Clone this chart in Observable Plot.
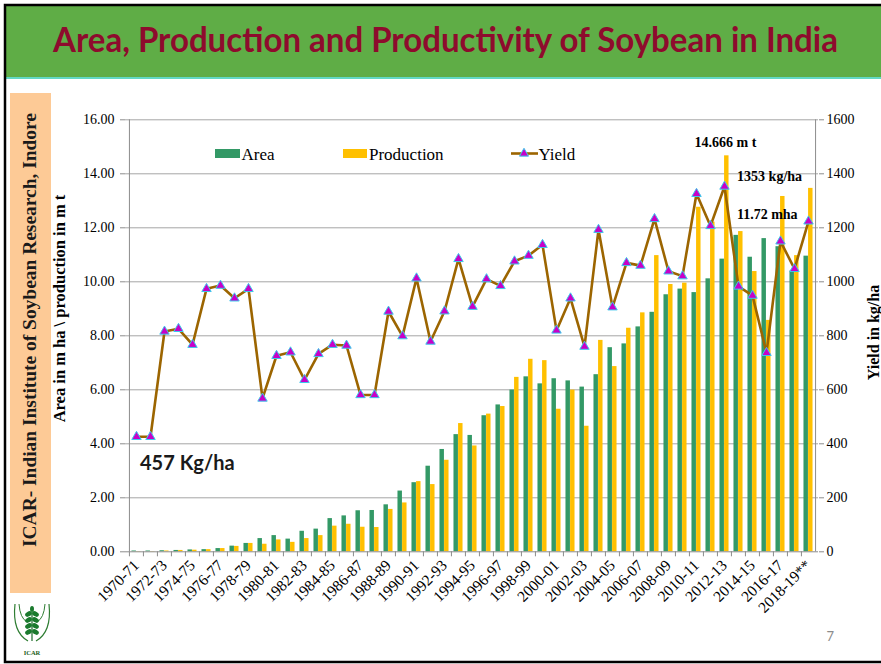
<!DOCTYPE html>
<html>
<head>
<meta charset="utf-8">
<script src="https://cdn.jsdelivr.net/npm/d3@7"></script>
<script src="https://cdn.jsdelivr.net/npm/@observablehq/plot@0.6"></script>
<style>
  body { margin: 0; background: #fff; }
  #page { position: relative; width: 881px; height: 664px; overflow: hidden; background: #fff; }
  #page > svg { position: absolute; left: 0; top: 0; }
</style>
</head>
<body>
<div id="page"></div>
<script>
// Crop years (tick labels are drawn for every second year)
const years = [
  "1970-71","1971-72","1972-73","1973-74","1974-75","1975-76","1976-77","1977-78","1978-79","1979-80",
  "1980-81","1981-82","1982-83","1983-84","1984-85","1985-86","1986-87","1987-88","1988-89","1989-90",
  "1990-91","1991-92","1992-93","1993-94","1994-95","1995-96","1996-97","1997-98","1998-99","1999-00",
  "2000-01","2001-02","2002-03","2003-04","2004-05","2005-06","2006-07","2007-08","2008-09","2009-10",
  "2010-11","2011-12","2012-13","2013-14","2014-15","2015-16","2016-17","2017-18","2018-19**"
];

// Area, million ha
const area = [
  0.03,0.03,0.04,0.05,0.07,0.08,0.12,0.21,0.31,0.49,
  0.60,0.47,0.76,0.84,1.23,1.33,1.52,1.53,1.74,2.25,
  2.56,3.17,3.79,4.34,4.31,5.04,5.44,5.99,6.48,6.22,
  6.41,6.33,6.10,6.56,7.56,7.70,8.33,8.87,9.52,9.73,
  9.60,10.11,10.84,11.72,10.91,11.60,11.30,10.40,10.95
];

// Production, million tonnes
const production = [
  0.01,0.01,0.03,0.05,0.06,0.08,0.12,0.20,0.31,0.28,
  0.44,0.35,0.49,0.60,0.95,1.02,0.91,0.90,1.57,1.81,
  2.60,2.49,3.39,4.75,3.92,5.10,5.38,6.46,7.13,7.08,
  5.28,5.99,4.65,7.83,6.86,8.28,8.85,10.97,9.90,9.95,
  12.76,12.21,14.666,11.86,10.38,8.57,13.16,10.97,13.46
];

// Yield, kg/ha
const yieldKg = [
  426,426,816,826,767,974,986,939,974,568,
  726,739,637,733,767,764,581,581,890,799,
  1013,779,891,1085,908,1010,985,1076,1097,1137,
  820,939,760,1193,906,1070,1060,1233,1039,1021,
  1326,1207,1353,983,949,737,1150,1048,1224
];

const seriesNames = ["Area", "Production", "Yield"];
const leftTicks = d3.range(0, 17, 2);
const rightTicks = d3.range(0, 1601, 200);

const rows = years.map((year, i) => ({year, area: area[i], production: production[i], yield: yieldKg[i]}));

const W = 881, H = 664;
const ML = 125, MR = 63, MT = 119.3, MB = H - 551.3;
const bw = (W - ML - MR) / years.length;
const barW = 4.6;

const colArea = "#339966", colProd = "#ffc000", colLine = "#9c6500";
const colTri = "#c800c8", colTriEdge = "#3cc8ec";
const gridColor = "#a6a6a6", axisColor = "#8c8c8c";
const serif = "Liberation Serif, Times New Roman, serif";

const page = d3.select("#page");

// ---------- slide background, header, side band, titles, legend ----------
const deco = page.append("svg").attr("width", W).attr("height", H);

deco.append("rect").attr("x", 6).attr("y", 6).attr("width", W - 6).attr("height", 71).attr("fill", "#5fad46");
deco.append("rect").attr("x", 6).attr("y", 77).attr("width", W - 6).attr("height", 2).attr("fill", "#62d8c4");
deco.append("path").attr("d", `M${W},5 H5 V662 H${W}`).attr("fill", "none").attr("stroke", "#000").attr("stroke-width", 2.5);

deco.append("text")
  .attr("x", 445.5).attr("y", 52).attr("text-anchor", "middle")
  .attr("font-family", "Lato, Open Sans, sans-serif").attr("font-weight", "bold").attr("font-size", 34)
  .attr("textLength", 785).attr("lengthAdjust", "spacingAndGlyphs")
  .attr("fill", "#8e0b2d")
  .text("Area, Production and Productivity of Soybean in India");

deco.append("rect").attr("x", 10).attr("y", 93).attr("width", 41).attr("height", 500).attr("fill", "#fdca96");

deco.append("text")
  .attr("transform", "translate(30,330) rotate(-90)")
  .attr("text-anchor", "middle").attr("dominant-baseline", "central")
  .attr("font-family", serif).attr("font-weight", "bold").attr("font-size", 18)
  .attr("textLength", 434).attr("lengthAdjust", "spacingAndGlyphs")
  .attr("fill", "#1a1a1a")
  .text("ICAR- Indian Institute of Soybean Research, Indore");

deco.append("text")
  .attr("transform", "translate(59.5,308.5) rotate(-90)")
  .attr("text-anchor", "middle").attr("dominant-baseline", "central")
  .attr("font-family", serif).attr("font-weight", "bold").attr("font-size", 16.5)
  .attr("fill", "#000")
  .text("Area in m ha \\ production in m t");

deco.append("text")
  .attr("transform", "translate(873.5,332.5) rotate(-90)")
  .attr("text-anchor", "middle").attr("dominant-baseline", "central")
  .attr("font-family", serif).attr("font-weight", "bold").attr("font-size", 16)
  .attr("fill", "#000")
  .text("Yield in kg/ha");

// legend
const lg = deco.append("g").attr("font-family", serif).attr("font-size", 17).attr("fill", "#000");
lg.append("rect").attr("x", 215).attr("y", 149).attr("width", 25).attr("height", 9).attr("fill", colArea);
lg.append("text").attr("x", 241.5).attr("y", 160).text(seriesNames[0]);
lg.append("rect").attr("x", 343).attr("y", 149).attr("width", 24).attr("height", 9).attr("fill", colProd);
lg.append("text").attr("x", 369).attr("y", 160).text(seriesNames[1]);
lg.append("line").attr("x1", 511).attr("x2", 538).attr("y1", 153.5).attr("y2", 153.5).attr("stroke", colLine).attr("stroke-width", 2.6);
lg.append("path").attr("transform", "translate(524,153.5)")
  .attr("d", d3.symbol(d3.symbolTriangle, 36)()).attr("fill", colTri).attr("stroke", colTriEdge).attr("stroke-width", 1);
lg.append("text").attr("x", 538.5).attr("y", 160).text(seriesNames[2]);

deco.append("text")
  .attr("x", 140).attr("y", 470)
  .attr("font-family", "Lato, sans-serif").attr("font-weight", "bold").attr("font-size", 20)
  .attr("fill", "#1a1a1a")
  .text("457 Kg/ha");

deco.append("text")
  .attr("x", 826.5).attr("y", 641)
  .attr("font-family", "Lato, sans-serif").attr("font-size", 13)
  .attr("fill", "#8c8c8c")
  .text("7");

// ICAR emblem
const logo = deco.append("g").attr("transform", "translate(32,626)");
logo.append("path").attr("d", "M-17,-22 Q-20,6 -4,15").attr("fill", "none").attr("stroke", "#2e7d32").attr("stroke-width", 1.2);
logo.append("path").attr("d", "M17,-22 Q20,6 4,15").attr("fill", "none").attr("stroke", "#2e7d32").attr("stroke-width", 1.2);
logo.append("path").attr("d", "M-13,-22 Q-12,-8 -5,-4").attr("fill", "none").attr("stroke", "#2e7d32").attr("stroke-width", 1);
logo.append("path").attr("d", "M13,-22 Q12,-8 5,-4").attr("fill", "none").attr("stroke", "#2e7d32").attr("stroke-width", 1);
logo.append("line").attr("x1", 0).attr("x2", 0).attr("y1", -14).attr("y2", 15).attr("stroke", "#1b6b2a").attr("stroke-width", 1.2);
[-12, -6, 0, 6].forEach(dy => {
  logo.append("ellipse").attr("cx", -3.5).attr("cy", dy).attr("rx", 3.6).attr("ry", 2.4).attr("transform", `rotate(-30,-3.5,${dy})`).attr("fill", "#1b7a2e");
  logo.append("ellipse").attr("cx", 3.5).attr("cy", dy).attr("rx", 3.6).attr("ry", 2.4).attr("transform", `rotate(30,3.5,${dy})`).attr("fill", "#1b7a2e");
});
logo.append("ellipse").attr("cx", 0).attr("cy", -17).attr("rx", 2).attr("ry", 3).attr("fill", "#1b7a2e");
logo.append("text").attr("x", 0).attr("y", 29).attr("text-anchor", "middle")
  .attr("font-family", serif).attr("font-weight", "bold").attr("font-size", 6.5).attr("fill", "#1b5e20").text("ICAR");

// ---------- area and production bars, left axis ----------
const peakProd = d3.greatest(rows, d => d.production);
const peakArea = d3.greatest(rows, d => d.area);
const peakYield = d3.greatest(rows, d => d.yield);

const common = {
  width: W, height: H,
  marginLeft: ML, marginRight: MR, marginTop: MT, marginBottom: MB,
  style: `background: transparent; font-family: ${serif}; font-size: 14px; color: #000; overflow: visible;`,
  x: {type: "band", domain: years, padding: 0, axis: null}
};

const barsPlot = Plot.plot({
  ...common,
  y: {domain: [0, 16], axis: null},
  marks: [
    Plot.gridY(leftTicks.filter(d => d > 0), {stroke: gridColor, strokeOpacity: 1}),
    Plot.barY(rows, {x: "year", y: "area", fill: colArea, insetLeft: bw / 2 - barW, insetRight: bw / 2}),
    Plot.barY(rows, {x: "year", y: "production", fill: colProd, insetLeft: bw / 2, insetRight: bw / 2 - barW}),
    Plot.ruleY([0], {stroke: axisColor}),
    Plot.ruleX([years[0]], {dx: -bw / 2, stroke: axisColor}),
    Plot.ruleX([years[years.length - 1]], {dx: bw / 2, stroke: axisColor}),
    Plot.axisY({ticks: leftTicks, tickFormat: d => d.toFixed(2), tickSize: 5, tickPadding: 6, stroke: axisColor, fontSize: 14, fontFamily: serif, label: null}),
    Plot.axisX({ticks: years, tickSize: 5, tickFormat: () => "", dx: -bw / 2, stroke: axisColor, label: null}),
    Plot.axisX({ticks: years.filter((d, i) => i % 2 === 0), tickSize: 0, tickPadding: 11, tickRotate: -45, fontSize: 15.5, fontFamily: serif, label: null}),
    Plot.text([peakProd], {x: "year", y: "production", text: d => `${d.production} m t`, dx: 1, dy: -13, fontWeight: "bold", fontSize: 14, fontFamily: serif, fill: "#000"}),
    Plot.text([peakArea], {x: "year", y: "area", text: d => `${d.area} mha`, textAnchor: "start", dx: -1.6, dy: -20.5, fontWeight: "bold", fontSize: 14, fontFamily: serif, fill: "#000"})
  ]
});

// ---------- yield line, right axis ----------
const yieldPlot = Plot.plot({
  ...common,
  y: {domain: [0, 1600], axis: null},
  marks: [
    Plot.line(rows, {x: "year", y: "yield", stroke: colLine, strokeWidth: 2.6}),
    Plot.dot(rows, {x: "year", y: "yield", symbol: "triangle", r: 3.5, fill: colTri, stroke: colTriEdge, strokeWidth: 1}),
    Plot.axisY({anchor: "right", ticks: rightTicks, tickFormat: d => String(d), tickSize: 5, tickPadding: 3, stroke: axisColor, fontSize: 14, fontFamily: serif, label: null}),
    Plot.text([peakYield], {x: "year", y: "yield", text: d => `${d.yield} kg/ha`, textAnchor: "start", dx: 12.6, dy: -10, fontWeight: "bold", fontSize: 14, fontFamily: serif, fill: "#000"})
  ]
});

document.getElementById("page").appendChild(barsPlot);
document.getElementById("page").appendChild(yieldPlot);
</script>
</body>
</html>
